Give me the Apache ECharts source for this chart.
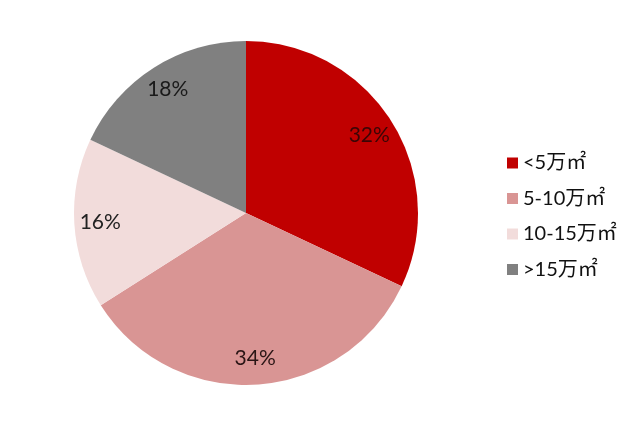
<!DOCTYPE html>
<html><head><meta charset="utf-8">
<script src="https://cdn.jsdelivr.net/npm/echarts@6/dist/echarts.min.js"></script>
<style>html,body{margin:0;padding:0;background:#fff}#c{width:640px;height:426px}</style>
</head><body><div id="c"></div>
<script>
const categories = ['<5万㎡', '5-10万㎡', '10-15万㎡', '>15万㎡'];
const values = [32, 34, 16, 18];
const colors = ['#C00000', '#D99594', '#F2DCDB', '#808080'];
const labelColors = ['#3a0505', '#2a1515', '#222222', '#1a1a1a'];

const chart = echarts.init(document.getElementById('c'));
const data = categories.map((n, i) => ({ name: n, value: values[i], itemStyle: { color: colors[i] } }));
const labelData = categories.map((n, i) => ({ name: n, value: values[i],
  label: { color: labelColors[i] } }));
chart.setOption({
  animation: false,
  legend: {
    orient: 'vertical', left: 502, top: 148,
    itemWidth: 11, itemHeight: 11, itemGap: 15.5,
    icon: 'rect',
    textStyle: { fontSize: 20, color: '#111', fontFamily: 'Lato, "Noto Sans CJK SC", sans-serif' },
    data: categories
  },
  series: [
    { type: 'pie', center: [246, 213], radius: [0, 172], startAngle: 90, clockwise: true,
      label: { show: false }, labelLine: { show: false }, silent: true,
      itemStyle: { borderColor: '#fff', borderWidth: 0 },
      data: data },
    { type: 'pie', center: [246, 213], radius: [114, 172], startAngle: 90, clockwise: true,
      silent: true, legendHoverLink: false,
      itemStyle: { color: 'rgba(0,0,0,0)' },
      label: { show: true, position: 'inside', formatter: '{c}%', fontSize: 21,
        fontFamily: 'Lato, sans-serif' },
      labelLine: { show: false },
      data: labelData }
  ]
});
</script></body></html>
